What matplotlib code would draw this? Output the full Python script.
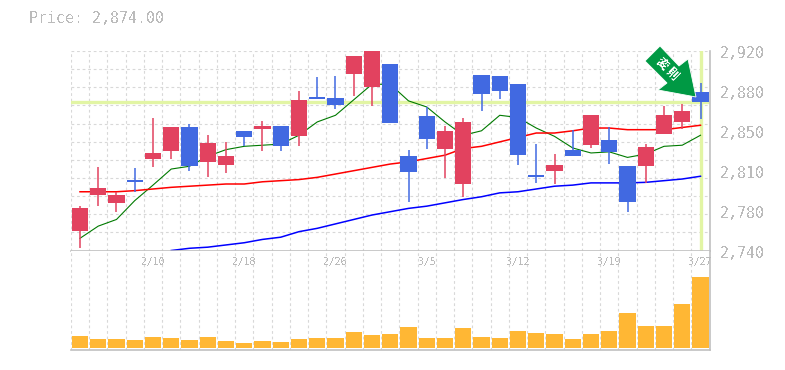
import numpy as np
import matplotlib
matplotlib.use('Agg')
import matplotlib.pyplot as plt
from matplotlib.patches import Polygon

# candle data
opens = [2758, 2790, 2783, 2804, 2823, 2830, 2851, 2820, 2817, 2848, 2850, 2852, 2843, 2878.5, 2878, 2899, 2887.5, 2908,
         2825, 2861, 2832, 2800, 2898, 2897, 2890, 2808, 2812, 2831, 2835, 2840, 2816, 2816, 2845, 2856, 2883]
closes = [2778, 2796, 2790, 2802, 2828, 2851, 2816, 2837, 2825, 2842, 2852, 2834, 2876, 2877, 2871, 2915.5, 2920, 2855,
          2811, 2841, 2848, 2856, 2881, 2884, 2826, 2806, 2817, 2825, 2862, 2829, 2784, 2833, 2862, 2866, 2874]
highs = [2780, 2815, 2793, 2814, 2860, 2851, 2854, 2844, 2838, 2848, 2857, 2852, 2884, 2896.5, 2897, 2915.5, 2920, 2908,
         2831, 2869.5, 2852, 2860, 2898, 2897, 2890, 2836, 2827, 2849, 2862, 2851, 2816, 2836, 2870, 2872, 2891]
lows = [2742, 2780, 2775, 2793, 2815, 2823, 2812, 2806, 2810, 2834, 2830, 2830, 2834, 2877, 2868, 2879, 2870, 2855,
        2784, 2832, 2805, 2788, 2866, 2877, 2817, 2801, 2800, 2825, 2832.5, 2818, 2775, 2801, 2845, 2850, 2859]

# moving averages
ma_short = [2751, 2762, 2768, 2785, 2799, 2813.5, 2816, 2825, 2831, 2834, 2835, 2836, 2844, 2856, 2862, 2876, 2890, 2890,
            2875, 2869.5, 2856, 2844, 2848, 2862, 2860, 2850.5, 2843, 2832.5, 2828, 2829, 2824, 2827, 2834, 2835, 2844]
ma_mid = [2793, 2793, 2793, 2794, 2795.5, 2797, 2798, 2799, 2800, 2800, 2802, 2803, 2804, 2806, 2809, 2812, 2815, 2818,
          2820, 2823, 2826, 2832, 2834, 2838, 2842, 2846, 2846, 2848, 2850.5, 2850.5, 2849, 2849, 2849, 2851, 2853]
ma_long = [np.nan, np.nan, np.nan, np.nan, np.nan, 2740, 2742, 2743, 2745, 2747, 2750, 2752, 2757, 2760, 2764, 2768, 2772, 2775,
           2778, 2780, 2783, 2786, 2788.5, 2792, 2793, 2795.5, 2798, 2799, 2801, 2801, 2801, 2801.5, 2803, 2804.5, 2807]

volumes = [12, 9, 9, 8, 11, 10, 8, 11, 7, 5, 7, 6, 9, 10, 10, 16, 13, 14,
           21, 10, 10, 20, 11, 10, 17, 15, 14, 9, 14, 17, 35, 22, 22, 44, 71]

last_price = 2874
price_ticks = [2920, 2884, 2848, 2812, 2776, 2740]
price_labels = ['2,920', '2,880', '2,850', '2,810', '2,780', '2,740']
date_ticks = [4, 9, 14, 19, 24, 29, 34]
date_labels = ['2/10', '2/18', '2/26', '3/5', '3/12', '3/19', '3/27']

UP = '#e2425f'
DOWN = '#4169e1'
GRID = '#d8d8d8'
AXIS = '#c0c0c0'
TEXT = '#bbbbbb'
W, H = 785, 370
plt.rcParams['text.antialiased'] = False
plt.rcParams['font.family'] = ['DejaVu Sans Mono']

fig = plt.figure(figsize=(W / 100, H / 100), dpi=100)


def px_axes(left, top, right, bottom):
    # axes from pixel box
    return fig.add_axes([left / W, 1 - bottom / H, (right - left) / W, (bottom - top) / H])


ax = px_axes(70.5, 51, 710, 250.5)
vol = px_axes(70.5, 250.5, 710, 350)
x = np.arange(len(opens))

for a in (ax, vol):
    a.set_xlim(-0.52, 34.52)
    a.set_xticks(np.arange(-0.5, 35, 1))
    a.grid(True, axis='x', color=GRID, linestyle=(0, (2.5, 2.5)), linewidth=0.8)
    a.set_axisbelow(True)
    a.tick_params(length=0, labelbottom=False, labelleft=False)
    for s in ('top', 'left'):
        a.spines[s].set_visible(False)
    for s in ('right', 'bottom'):
        a.spines[s].set_color(AXIS)
        a.spines[s].set_linewidth(1.2)

# price panel
ax.set_ylim(2740, 2920)
ax.set_yticks(np.linspace(2740, 2920, 12))
ax.grid(True, axis='y', color=GRID, linestyle=(0, (2.5, 2.5)), linewidth=0.8)
ax.axhline(last_price, color='#e2f5a4', linewidth=2.4, zorder=1.5)
ax.axvline(x[-1], ymin=0.005, color='#e2f5a4', linewidth=2.4, zorder=1.5)

ax.plot(x, ma_short, color='#007a00', linewidth=0.8, zorder=2)
ax.plot(x, ma_mid, color='#ff0000', linewidth=1.1, zorder=2)
ax.plot(x, ma_long, color='#0000ff', linewidth=1.1, zorder=2)

colors = [UP if c > o else DOWN for o, c in zip(opens, closes)]
ax.vlines(x, lows, highs, colors=colors, linewidth=1.1, zorder=3)
ax.bar(x, np.abs(np.array(closes) - np.array(opens)), bottom=np.minimum(opens, closes),
       width=0.88, color=colors, zorder=3)

# labels run at 40px steps, a bit wider than the grid
for v, lab in zip(price_ticks, price_labels):
    ypx = 53 + (2920 - v) * 200 / 180
    fig.text(720 / W, 1 - ypx / H, lab, color=TEXT, fontsize=10.7, va='center', ha='left')

# date labels sit in the volume panel
for d, lab in zip(date_ticks, date_labels):
    vol.text(d, 1 - 11.5 / 99.5, lab, transform=vol.get_xaxis_transform(), color=TEXT, fontsize=7,
             ha='center', va='center')

# volume panel
vol.set_ylim(-2, 97.5)
vol.set_yticks([])
vol.bar(x, volumes, width=0.88, color='#ffb734', zorder=3)

fig.text(29 / W, 1 - 18.5 / H, 'Price: 2,874.00', color=TEXT, fontsize=10.7, va='center', ha='left')

# green arrow marker
arrow_px = [(660, 46), (645, 61), (667, 83), (658, 90), (696, 97), (688, 59), (679, 66)]
arrow = Polygon([(px / W, 1 - py / H) for px, py in arrow_px], closed=True, transform=fig.transFigure,
                facecolor='#009944', edgecolor='white', linewidth=0.6, zorder=5)
fig.add_artist(arrow)
fig.text(667 / W, 1 - 69 / H, '変 則', color='white', fontsize=8.5, rotation=-45, ha='center', va='center',
         rotation_mode='anchor', family=['Noto Sans CJK JP', 'DejaVu Sans'], fontweight='bold', zorder=6)

fig.savefig('out.png', dpi=100)
